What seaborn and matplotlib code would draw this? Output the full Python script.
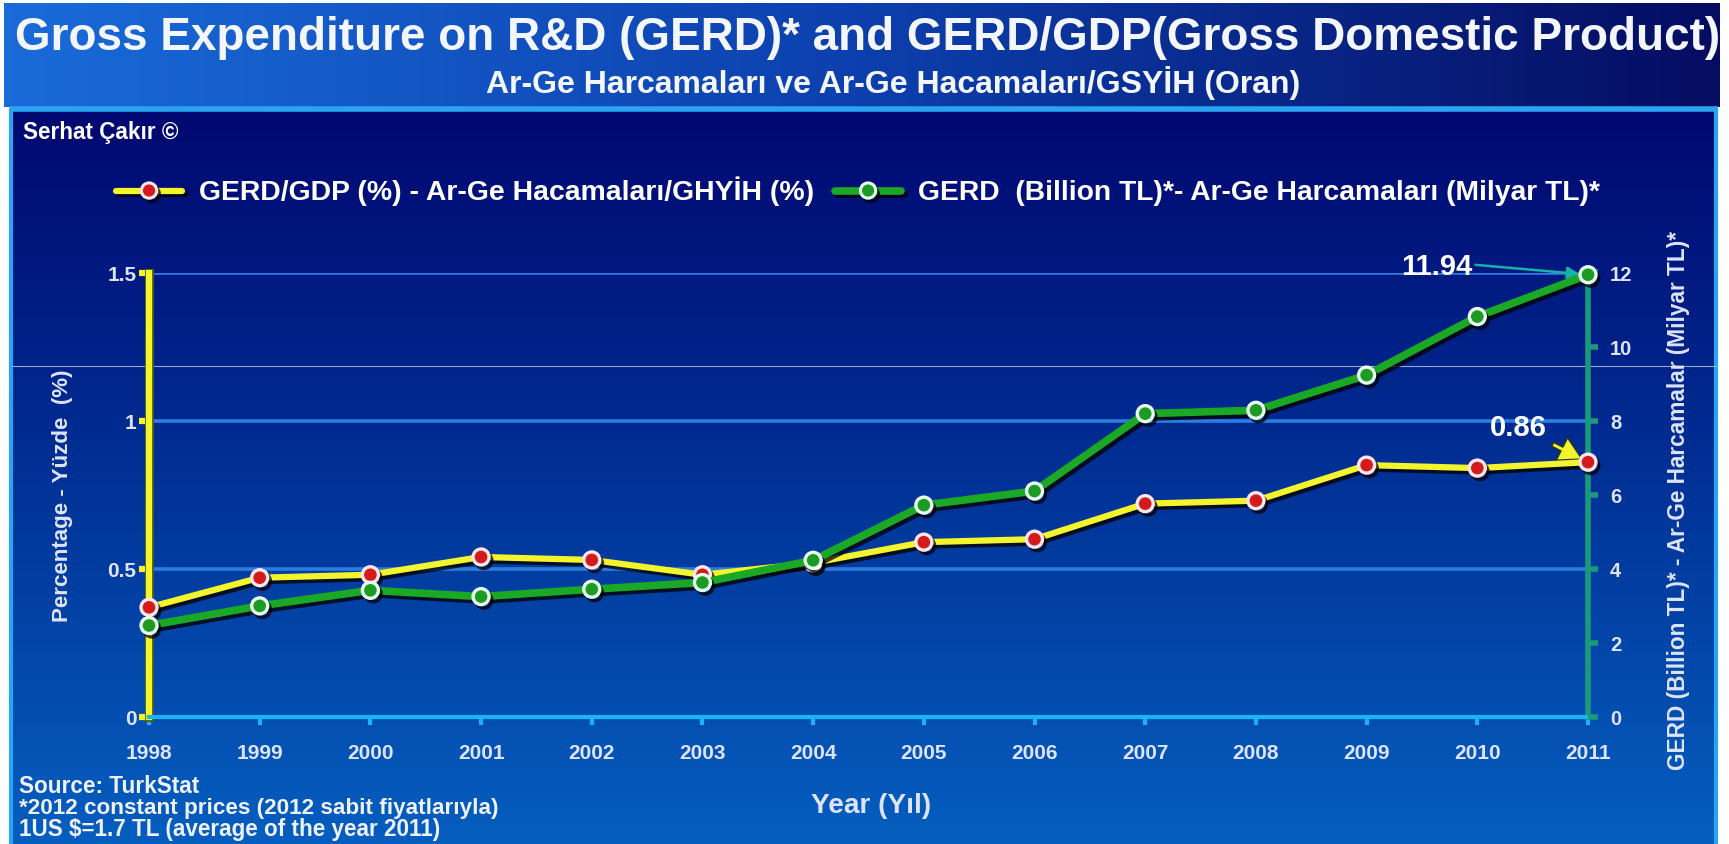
import numpy as np
import matplotlib
matplotlib.use("Agg")
import matplotlib.pyplot as plt
import seaborn as sns
from matplotlib import patheffects as pe
from matplotlib import font_manager as fm
from matplotlib.lines import Line2D

# ---------------- data ----------------
years = list(range(1998, 2012))
gerd_gdp = [0.37, 0.47, 0.48, 0.54, 0.53, 0.48, 0.52, 0.59, 0.60, 0.72, 0.73, 0.85, 0.84, 0.86]
gerd_bn = [2.47, 3.00, 3.42, 3.25, 3.45, 3.63, 4.23, 5.72, 6.10, 8.19, 8.28, 9.23, 10.81, 11.94]
left_ticks = [0, 0.5, 1, 1.5]
left_tick_labels = ["0", "0.5", "1", "1.5"]
right_ticks = [0, 2, 4, 6, 8, 10, 12]
year_labels = [str(y) for y in years]

title = "Gross Expenditure on R&D (GERD)* and GERD/GDP(Gross Domestic Product)"
subtitle = "Ar-Ge Harcamaları ve Ar-Ge Hacamaları/GSYİH (Oran)"
label_gdp = "GERD/GDP (%) - Ar-Ge Hacamaları/GHYİH (%)"
label_bn = "GERD  (Billion TL)*- Ar-Ge Harcamaları (Milyar TL)*"
ylabel_left = "Percentage - Yüzde  (%)"
ylabel_right = "GERD (Billion TL)* - Ar-Ge Harcamalar (Milyar TL)*"
xlabel = "Year (Yıl)"
footnotes = ["Source: TurkStat",
             "*2012 constant prices (2012 sabit fiyatlarıyla)",
             "1US $=1.7 TL (average of the year 2011)"]

# ---------------- style ----------------
sns.set_theme(style="white")
names = {f.name for f in fm.fontManager.ttflist}
narrow = "Liberation Sans Narrow" if "Liberation Sans Narrow" in names else "Liberation Sans"
plt.rcParams["font.family"] = ["Liberation Sans", "DejaVu Sans"]
plt.rcParams["font.weight"] = "bold"

W, H = 1729, 845
fig = plt.figure(figsize=(W / 100, H / 100), dpi=100, facecolor="white")

# background (pixel coordinates)
bg = fig.add_axes([0, 0, 1, 1], zorder=-10)
bg.set_xlim(0, W)
bg.set_ylim(H, 0)
bg.axis("off")

def gradient(stops, n=256):
    pos = np.array([s[0] for s in stops])
    cols = np.array([s[1] for s in stops])
    t = np.linspace(0, 1, n)
    return np.stack([np.interp(t, pos, cols[:, i]) for i in range(3)], axis=-1)

hg = gradient([(0, (0.10, 0.42, 0.85)), (0.5, (0.05, 0.25, 0.68)), (1, (0.02, 0.05, 0.38))])
bg.imshow(hg[None, :, :], extent=[4, 1720, 108, 4], aspect="auto", origin="upper", zorder=0)
vg = gradient([(0, (0.00, 0.03, 0.44)), (0.35, (0.00, 0.14, 0.54)), (1, (0.02, 0.37, 0.75))])
bg.imshow(vg[:, None, :], extent=[10, 1718, 845, 110], aspect="auto", origin="upper", zorder=0)
frame_c = "#2aa4f2"
bg.plot([10, 1718], [110, 110], color=frame_c, lw=4, zorder=1, solid_capstyle="butt")
bg.plot([11.5, 11.5], [110, 845], color=frame_c, lw=3, zorder=1)
bg.plot([1716.5, 1716.5], [110, 845], color=frame_c, lw=3, zorder=1)
bg.plot([12, 1716], [367, 367], color="#c0c8e0", lw=0.8, alpha=0.8, zorder=1)

# main axes
ax = fig.add_axes([149 / W, 1 - 718 / H, (1588 - 149) / W, (718 - 273.5) / H])
ax.patch.set_alpha(0)
ax2 = ax.twinx()
ax2.patch.set_alpha(0)

yellow = "#f4f42c"
green = "#1aa825"
teal = "#1a9a78"
tickc = "#dde4ff"
shadow = [pe.SimpleLineShadow(offset=(2, -2.5), shadow_color="black", alpha=0.75), pe.Normal()]

sns.lineplot(x=years, y=gerd_gdp, ax=ax, color=yellow, linewidth=4.5, marker="o",
             markersize=11.5, markerfacecolor="#d41a1a", markeredgecolor="#ffe6ea",
             markeredgewidth=2.4, clip_on=False, zorder=5, path_effects=shadow, legend=False)
sns.lineplot(x=years, y=gerd_bn, ax=ax2, color=green, linewidth=5.5, marker="o",
             markersize=11.5, markerfacecolor="#1c9a22", markeredgecolor="#e6fff0",
             markeredgewidth=2.4, clip_on=False, zorder=5, path_effects=shadow, legend=False)

ax.set_xlim(years[0], years[-1])
ax.set_ylim(left_ticks[0], left_ticks[-1])
ax2.set_ylim(right_ticks[0], right_ticks[-1])

ax.set_xticks(years)
ax.set_xticklabels(year_labels)
ax.set_yticks(left_ticks)
ax.set_yticklabels(left_tick_labels)
ax2.set_yticks(right_ticks)

ax.yaxis.grid(True, color="#2c7de0", linewidth=2.6)
ax.xaxis.grid(False)
ax.set_axisbelow(True)

ax.spines["top"].set_visible(False)
for s in ax2.spines.values():
    s.set_visible(False)
ax.spines["left"].set_color(yellow)
ax.spines["left"].set_linewidth(4.5)
ax.spines["left"].set_path_effects([pe.Stroke(linewidth=6.5, foreground="#4a5a18"), pe.Normal()])
ax.spines["right"].set_color(teal)
ax.spines["right"].set_linewidth(4)
ax.spines["bottom"].set_color("#1ab4f4")
ax.spines["bottom"].set_linewidth(3)

ax.tick_params(axis="x", bottom=True, direction="out", length=6, width=3, color="#1ab4f4",
               labelcolor=tickc, labelsize=15, pad=13)
ax.tick_params(axis="y", left=True, direction="out", length=7, width=4.5, color=yellow,
               labelcolor=tickc, labelsize=15, pad=2)
ax2.tick_params(axis="y", right=True, direction="out", length=7, width=4, color=teal,
                labelcolor=tickc, labelsize=14.5, pad=9)

ax.set_xlabel(xlabel, color=tickc, fontsize=18, fontweight="bold")
ax.xaxis.set_label_coords(0.502, -0.168)
ax.set_ylabel(ylabel_left, color=tickc, fontsize=14, fontweight="bold")
ax.yaxis.set_label_coords(-0.0528, 0.50)
ax2.set_ylabel(ylabel_right, color=tickc, fontsize=16, fontweight="bold", rotation=90)
ax2.yaxis.set_label_coords(1.0549, 0.49)

# annotations
ax2.annotate("11.94", xy=(years[-1], gerd_bn[-1]), xytext=(-109, 6), textcoords="offset points",
             ha="center", va="center", color="white", fontsize=21, fontweight="bold",
             arrowprops=dict(arrowstyle="-|>", color="#18b0a8", lw=1.8, shrinkA=0, shrinkB=6,
                             relpos=(0.85, 0.6), mutation_scale=18))
ax.annotate("0.86", xy=(years[-1], gerd_gdp[-1]), xytext=(-50, 25), textcoords="offset points",
            ha="center", va="center", color="white", fontsize=21, fontweight="bold",
            arrowprops=dict(arrowstyle="simple,head_width=0.9,head_length=0.8,tail_width=0.15",
                            facecolor=yellow, edgecolor="#303818", lw=1.0,
                            shrinkA=2, shrinkB=5, relpos=(1.0, 0.0), mutation_scale=20))

# legend
handles = [
    Line2D([], [], color=yellow, lw=4.5, marker="o", markersize=11, markerfacecolor="#d41a1a",
           markeredgecolor="#ffe6ea", markeredgewidth=2.2, path_effects=shadow),
    Line2D([], [], color=green, lw=5.5, marker="o", markersize=11, markerfacecolor="#1c9a22",
           markeredgecolor="#e6fff0", markeredgewidth=2.2, path_effects=shadow),
]
leg = fig.legend(handles, [label_gdp, label_bn], loc="center left",
                 bbox_to_anchor=(116 / W, 1 - 191 / H), ncol=2, frameon=False, fontsize=17,
                 handlelength=2.8, handletextpad=0.7, columnspacing=0.9, borderpad=0,
                 borderaxespad=0, labelcolor="white")

# texts
serhat = fig.text(23 / W, 1 - 133 / H, "Serhat Çakır ©", color="white", fontsize=12,
                  fontweight="bold", ha="left", va="center")
fn_texts = []
for t, yy in zip(footnotes, [787, 809, 830]):
    fn_texts.append(fig.text(19 / W, 1 - yy / H, t, color="#eef2ff", fontsize=15,
                             fontweight="bold", ha="left", va="center"))

t1 = fig.text(868 / W, 1 - 38 / H, title, color="#f4f6ff", fontsize=36, fontweight="bold",
              ha="center", va="center", family=[narrow, "DejaVu Sans"])
t2 = fig.text(893 / W, 1 - 83 / H, subtitle, color="#f4f6ff", fontsize=20, fontweight="bold",
              ha="center", va="center", family=[narrow, "DejaVu Sans"])

# fit text widths to the reference (pixel extents)
fig.canvas.draw()
r = fig.canvas.get_renderer()
targets = [(t1, 1703, "w"), (t2, 816, "w"), (serhat, 155, "w"),
           (fn_texts[0], 182, "w"), (fn_texts[1], 481, "w"), (fn_texts[2], 425, "w"),
           (ax.xaxis.label, 120, "w"), (ax.yaxis.label, 254, "h"), (ax2.yaxis.label, 541, "h"),
           (leg.get_texts()[0], 618, "w"), (leg.get_texts()[1], 683, "w")]
for t, target, dim in targets:
    bb = t.get_window_extent(r)
    size = bb.width if dim == "w" else bb.height
    t.set_fontsize(t.get_fontsize() * target / size)

fig.savefig("out.png", dpi=100, facecolor=fig.get_facecolor())
